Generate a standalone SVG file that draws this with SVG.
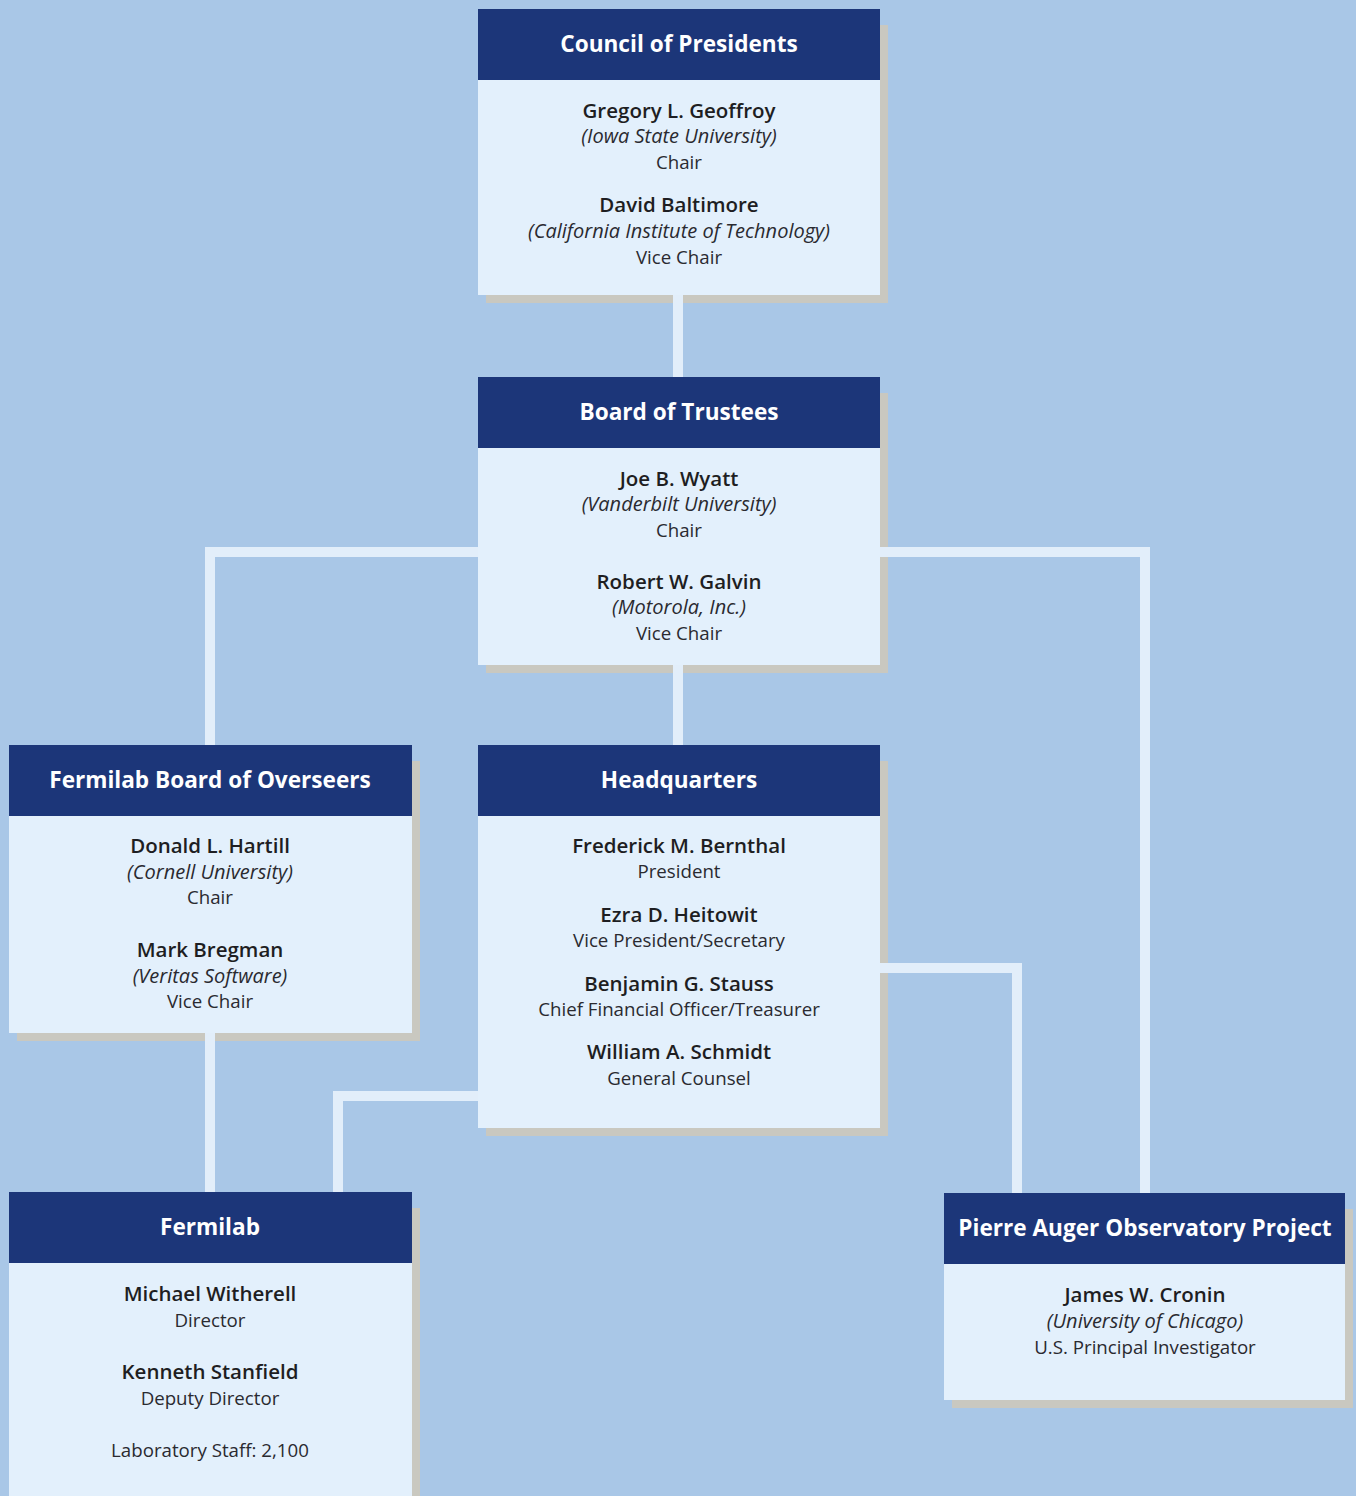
<svg xmlns="http://www.w3.org/2000/svg" width="1356" height="1496" viewBox="0 0 1356 1496">
<style>
.bg{fill:#a9c7e7}
.sh{fill:#c9c8c0}
.body{fill:#e3f0fc}
.head{fill:#1c3679}
.ht{font-family:"Open Sans","Liberation Sans",sans-serif;font-weight:700;font-size:22.6px;fill:#ffffff;text-anchor:middle}
.nm{font-family:"Open Sans","Liberation Sans",sans-serif;font-weight:600;font-size:20.5px;fill:#1e1e22;text-anchor:middle}
.it{font-family:"Open Sans","Liberation Sans",sans-serif;font-style:italic;font-size:20px;fill:#2a2a30;text-anchor:middle}
.rg{font-family:"Open Sans","Liberation Sans",sans-serif;font-size:18.7px;fill:#2a2a30;text-anchor:middle}
.cn{fill:none;stroke:#e2eefa;stroke-width:10;stroke-linejoin:miter}
</style>
<rect class="bg" x="0" y="0" width="1356" height="1496"/>
<g id="shadows">
<rect class="sh" x="486" y="25" width="402" height="278"/>
<rect class="sh" x="486" y="393" width="402" height="280"/>
<rect class="sh" x="17" y="761" width="403" height="280"/>
<rect class="sh" x="486" y="761" width="402" height="375"/>
<rect class="sh" x="17" y="1208" width="403" height="300"/>
<rect class="sh" x="952" y="1209" width="401" height="199"/>
</g>
<g id="connectors">
<path class="cn" d="M678 295 V377"/>
<path class="cn" d="M678 665 V745"/>
<path class="cn" d="M210 745 V552 H1145 V1193"/>
<path class="cn" d="M210 1033 V1192"/>
<path class="cn" d="M478 1096 H338 V1192"/>
<path class="cn" d="M880 968 H1017 V1193"/>
</g>
<g id="council">
<rect class="body" x="478" y="9" width="402" height="286"/>
<rect class="head" x="478" y="9" width="402" height="71"/>
<text class="ht" x="679" y="52">Council of Presidents</text>
<text class="nm" x="679" y="118">Gregory L. Geoffroy</text>
<text class="it" x="679" y="143">(Iowa State University)</text>
<text class="rg" x="679" y="169">Chair</text>
<text class="nm" x="679" y="212">David Baltimore</text>
<text class="it" x="679" y="238">(California Institute of Technology)</text>
<text class="rg" x="679" y="264">Vice Chair</text>
</g>
<g id="trustees">
<rect class="body" x="478" y="377" width="402" height="288"/>
<rect class="head" x="478" y="377" width="402" height="71"/>
<text class="ht" x="679" y="420">Board of Trustees</text>
<text class="nm" x="679" y="486">Joe B. Wyatt</text>
<text class="it" x="679" y="511">(Vanderbilt University)</text>
<text class="rg" x="679" y="537">Chair</text>
<text class="nm" x="679" y="589">Robert W. Galvin</text>
<text class="it" x="679" y="614">(Motorola, Inc.)</text>
<text class="rg" x="679" y="640">Vice Chair</text>
</g>
<g id="overseers">
<rect class="body" x="9" y="745" width="403" height="288"/>
<rect class="head" x="9" y="745" width="403" height="71"/>
<text class="ht" x="210" y="788">Fermilab Board of Overseers</text>
<text class="nm" x="210" y="853">Donald L. Hartill</text>
<text class="it" x="210" y="879">(Cornell University)</text>
<text class="rg" x="210" y="904">Chair</text>
<text class="nm" x="210" y="957">Mark Bregman</text>
<text class="it" x="210" y="983">(Veritas Software)</text>
<text class="rg" x="210" y="1008">Vice Chair</text>
</g>
<g id="headquarters">
<rect class="body" x="478" y="745" width="402" height="383"/>
<rect class="head" x="478" y="745" width="402" height="71"/>
<text class="ht" x="679" y="788">Headquarters</text>
<text class="nm" x="679" y="853">Frederick M. Bernthal</text>
<text class="rg" x="679" y="878">President</text>
<text class="nm" x="679" y="922">Ezra D. Heitowit</text>
<text class="rg" x="679" y="947">Vice President/Secretary</text>
<text class="nm" x="679" y="991">Benjamin G. Stauss</text>
<text class="rg" x="679" y="1016">Chief Financial Officer/Treasurer</text>
<text class="nm" x="679" y="1059">William A. Schmidt</text>
<text class="rg" x="679" y="1085">General Counsel</text>
</g>
<g id="fermilab">
<rect class="body" x="9" y="1192" width="403" height="310"/>
<rect class="head" x="9" y="1192" width="403" height="71"/>
<text class="ht" x="210" y="1235">Fermilab</text>
<text class="nm" x="210" y="1301">Michael Witherell</text>
<text class="rg" x="210" y="1327">Director</text>
<text class="nm" x="210" y="1379">Kenneth Stanfield</text>
<text class="rg" x="210" y="1405">Deputy Director</text>
<text class="rg" x="210" y="1457">Laboratory Staff: 2,100</text>
</g>
<g id="auger">
<rect class="body" x="944" y="1193" width="401" height="207"/>
<rect class="head" x="944" y="1193" width="401" height="71"/>
<text class="ht" x="1145" y="1236">Pierre Auger Observatory Project</text>
<text class="nm" x="1145" y="1302">James W. Cronin</text>
<text class="it" x="1145" y="1328">(University of Chicago)</text>
<text class="rg" x="1145" y="1354">U.S. Principal Investigator</text>
</g>
</svg>
